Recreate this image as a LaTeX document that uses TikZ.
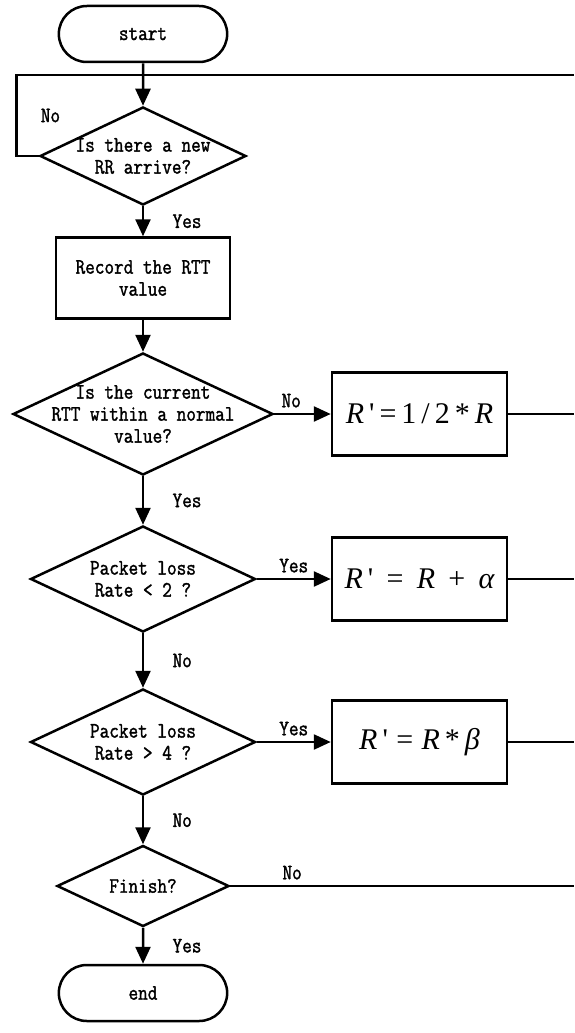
\documentclass[tikz,border=0pt]{standalone}
\usepackage{fontspec}
\newfontfamily\formulafont{Liberation Serif}
\newfontfamily\flowfont{Latin Modern Mono}[FakeStretch=0.85,FakeBold=1.5]
\usetikzlibrary{positioning,shapes.geometric,shapes.misc,arrows.meta}

\tikzset{
  terminal/.style={draw, rounded rectangle, minimum width=175pt, minimum height=56pt},
  process/.style={draw, align=center, minimum width=174pt, minimum height=81pt},
  formula/.style={draw, minimum width=175pt, minimum height=83pt, font=\formulafont\fontsize{30}{32}\selectfont},
  decision/.style 2 args={draw, diamond, inner sep=0pt, minimum width=#1, minimum height=#2},
}

\begin{document}
\begin{tikzpicture}[x=1pt,y=-1pt,node distance=122pt,line width=2.5pt,
    >={Triangle[length=17pt,width=15pt]},font=\flowfont\fontsize{22}{22}\selectfont]
    \useasboundingbox (0,0) rectangle (574,1033);
    \node (start) [terminal] at (143,34) {start};
    \node (newrr) [decision={206pt}{98pt}, below of=start,
        label={[align=center]center:Is there a new\\RR arrive?}] {};
    \node (record) [process, below of=newrr] {Record the RTT\\value};
    \node (rtt) [decision={260pt}{122pt}, below of=record, yshift=-14pt,
        label={[align=center]center:Is the current\\RTT within a normal\\value?}] {};
    \node (low) [decision={225pt}{106pt}, below of=rtt, yshift=-43pt,
        label={[align=center]center:Packet loss\\Rate < 2 ?}] {};
    \node (high) [decision={225pt}{106pt}, below of=low, yshift=-41pt,
        label={[align=center]center:Packet loss\\Rate > 4 ?}] {};
    \node (finish) [decision={172pt}{81pt}, below of=high, yshift=-22pt,
        label={center:Finish?}] {};
    \node (stop) [terminal, below of=finish, yshift=15pt] {end};
    % rate updates
    \node (half) [formula, right of=rtt, xshift=154.5pt] {{\itshape R}\,\textquotesingle\,=\,1\,/\,2\,*\,{\itshape R}};
    \node (plus) [formula, right of=low, xshift=154.5pt] {{\itshape R}\,\textquotesingle\;\,=\;\,{\itshape R}\;\,+\;\,{\itshape α}};
    \node (times) [formula, right of=high, xshift=154.5pt] {{\itshape R}\,\textquotesingle\;=\;{\itshape R}\,*\,{\itshape β}};
    \coordinate (back) at (574,75);

    \draw[->] (start) -- (newrr);
    \draw (newrr.west) -- ++(-22.5,0) |- node[pos=0.25, right=20pt]{No} (back);
    \draw[->] (newrr) -- node[right=25pt]{Yes} (record);
    \draw[->] (record) -- (rtt);
    \draw[->] (rtt) -- node[pos=0.3, above=2pt]{No} (half);
    \draw (half.east) -- (half.east -| back);
    \draw[->] (rtt) -- node[right=25pt]{Yes} (low);
    \draw[->] (low) -- node[above=2pt]{Yes} (plus);
    \draw (plus.east) -- (plus.east -| back);
    \draw[->] (low) -- node[right=25pt]{No} (high);
    \draw[->] (high) -- node[above=2pt]{Yes} (times);
    \draw (times.east) -- (times.east -| back);
    \draw[->] (high) -- node[right=25pt]{No} (finish);
    \draw (finish.east) -- node[pos=0.18, above=2pt]{No} (finish.east -| back);
    \draw[->] (finish) -- node[right=25pt]{Yes} (stop);
\end{tikzpicture}
\end{document}
